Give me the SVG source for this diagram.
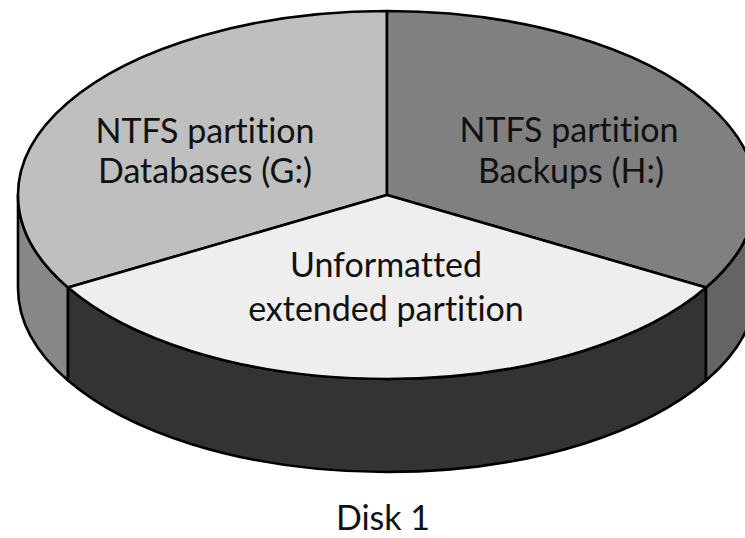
<svg xmlns="http://www.w3.org/2000/svg" width="745" height="538" viewBox="0 0 745 538">
<style>
  .edge { stroke: #000; stroke-width: 2.6; stroke-linejoin: round; }
  .lbl { font-family: Lato, "Liberation Sans", sans-serif; font-size: 34px; fill: #111; text-anchor: middle; font-variant-ligatures: none; font-feature-settings: "liga" 0; }
</style>
<rect width="745" height="538" fill="#fff"/>
<g id="sides">
  <path id="side-left" class="edge" fill="#878787" d="M18,195 A369,184 0 0 0 68,287.5 L68,380.5 A369,184 0 0 1 18,288 Z"/>
  <path id="side-front" class="edge" fill="#333333" d="M68,287.5 A369,184 0 0 0 706,287.5 L706,380.5 A369,184 0 0 1 68,380.5 Z"/>
  <path id="side-right" class="edge" fill="#646464" d="M706,287.5 A369,184 0 0 0 756,195 L756,288 A369,184 0 0 1 706,380.5 Z"/>
</g>
<g id="slice-g">
  <path class="edge" fill="#bfbfbf" d="M387,195 L387,11 A369,184 0 0 0 68,287.5 Z"/>
  <text class="lbl" x="205" y="143">NTFS partition</text>
  <text class="lbl" x="205" y="183">Databases (G:)</text>
</g>
<g id="slice-h">
  <path class="edge" fill="#808080" d="M387,195 L387,11 A369,184 0 0 1 706,287.5 Z"/>
  <text class="lbl" x="569" y="142">NTFS partition</text>
  <text class="lbl" x="571" y="183">Backups (H:)</text>
</g>
<g id="slice-ext">
  <path class="edge" fill="#eeeeee" d="M387,195 L68,287.5 A369,184 0 0 0 706,287.5 Z"/>
  <text class="lbl" x="386" y="277">Unformatted</text>
  <text class="lbl" x="386" y="321">extended partition</text>
</g>
<g id="caption">
  <text class="lbl" x="383" y="530">Disk 1</text>
</g>
</svg>
